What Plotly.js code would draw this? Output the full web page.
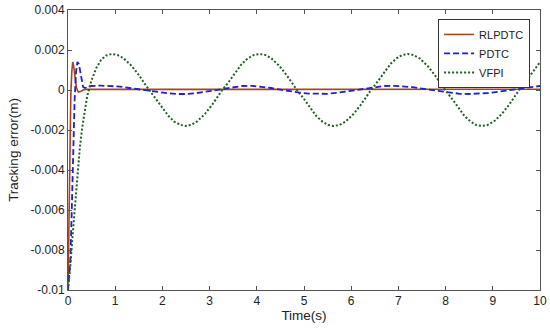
<!DOCTYPE html>
<html>
<head>
<meta charset="utf-8">
<script src="https://cdn.plot.ly/plotly-3.0.1.min.js"></script>
<style>html,body{margin:0;padding:0;background:#fff;}#chart{width:550px;height:332px;}</style>
</head>
<body>
<div id="chart"></div>
<script>
// ---- Data ----
const seriesNames = ["RLPDTC", "PDTC", "VFPI"];

const rlTime = [0, 0.02, 0.04, 0.06, 0.08, 0.1, 0.12, 0.15, 0.18, 0.22, 0.26, 0.32, 0.4, 0.6, 1.0, 1.5, 2.0, 2.5, 3.0, 3.5, 4.0, 4.5, 5.0, 5.5, 6.0, 6.5, 7.0, 7.5, 8.0, 8.5, 9.0, 9.5, 10.0];
const rlError = [-0.0100, -0.0060, -0.0020, -0.0002, 0.0009, 0.0014, 0.0012, 0.0006, 0.0001, -0.0001, -0.00008, 0.0, 0.00004, 0.00003, 0.00003, 0.00002, 0.00001, 0.00002, 0.00003, 0.00004, 0.00004, 0.00003, 0.00002, 0.00002, 0.00003, 0.00004, 0.00004, 0.00003, 0.00002, 0.00002, 0.00003, 0.00004, 0.00004];

const pdTime = [0, 0.05, 0.08, 0.11, 0.14, 0.17, 0.2, 0.23, 0.26, 0.29, 0.32, 0.36, 0.42, 0.5, 0.7, 0.9, 1.1, 1.3, 1.5, 1.7, 1.9, 2.1, 2.3, 2.5, 2.7, 2.9, 3.1, 3.3, 3.5, 3.7, 3.9, 4.1, 4.3, 4.5, 4.7, 4.9, 5.1, 5.3, 5.5, 5.7, 5.9, 6.1, 6.3, 6.5, 6.7, 6.9, 7.1, 7.3, 7.5, 7.7, 7.9, 8.1, 8.3, 8.5, 8.7, 8.9, 9.1, 9.3, 9.5, 9.7, 9.9, 10.0];
const pdError = [-0.0100, -0.0085, -0.0060, -0.0030, -0.0005, 0.0009, 0.0014, 0.0013, 0.0009, 0.0004, 0.00015, 0.0001, 0.00015, 0.0002, 0.00022, 0.0002, 0.00017, 0.0001, 0.00003, -0.00004, -0.0001, -0.00016, -0.0002, -0.0002, -0.00016, -0.0001, -0.00002, 0.00006, 0.00014, 0.0002, 0.00021, 0.00016, 0.0001, 0.00002, -0.00006, -0.00013, -0.00018, -0.0002, -0.00019, -0.00014, -0.00007, 0.0, 0.00008, 0.00015, 0.0002, 0.00021, 0.00019, 0.00014, 0.00007, 0.0, -0.00007, -0.00014, -0.00019, -0.0002, -0.00019, -0.00015, -0.00009, -0.00002, 0.00005, 0.00012, 0.00017, 0.0002];

const vfTime = [0, 0.05, 0.1, 0.15, 0.2, 0.25, 0.3, 0.35, 0.4, 0.45, 0.5, 0.6, 0.7, 0.8, 0.93, 1.05, 1.18, 1.35, 1.5, 1.65, 1.72, 1.87, 2.0, 2.13, 2.25, 2.37, 2.48, 2.6, 2.73, 2.9, 3.05, 3.2, 3.27, 3.42, 3.55, 3.68, 3.81, 3.94, 4.06, 4.18, 4.31, 4.48, 4.63, 4.78, 4.85, 5.0, 5.13, 5.26, 5.39, 5.51, 5.63, 5.75, 5.88, 6.05, 6.2, 6.35, 6.42, 6.57, 6.7, 6.83, 6.96, 7.08, 7.2, 7.32, 7.45, 7.62, 7.77, 7.92, 7.99, 8.14, 8.27, 8.4, 8.53, 8.65, 8.77, 8.89, 9.02, 9.19, 9.34, 9.49, 9.56, 9.71, 9.84, 10.0];
const vfError = [-0.0100, -0.0088, -0.0072, -0.0056, -0.0041, -0.0029, -0.0019, -0.0011, -0.0004, 0.0001, 0.0005, 0.0011, 0.0015, 0.00172, 0.0018, 0.00175, 0.00158, 0.0012, 0.00075, 0.00023, 0.0, -0.00045, -0.0009, -0.0013, -0.00158, -0.00173, -0.0018, -0.00175, -0.00158, -0.0012, -0.00075, -0.00023, 0.0, 0.00045, 0.0009, 0.0013, 0.00158, 0.00175, 0.0018, 0.00175, 0.00158, 0.0012, 0.00075, 0.00023, 0.0, -0.00045, -0.0009, -0.0013, -0.00158, -0.00175, -0.0018, -0.00175, -0.00158, -0.0012, -0.00075, -0.00023, 0.0, 0.00045, 0.0009, 0.0013, 0.00158, 0.00175, 0.0018, 0.00175, 0.00158, 0.0012, 0.00075, 0.00023, 0.0, -0.00045, -0.0009, -0.0013, -0.00158, -0.00175, -0.0018, -0.00175, -0.00158, -0.0012, -0.00075, -0.00023, 0.0, 0.00045, 0.0009, 0.0014];

const xTickVals = [0, 1, 2, 3, 4, 5, 6, 7, 8, 9, 10];
const xTickText = ["0", "1", "2", "3", "4", "5", "6", "7", "8", "9", "10"];
const yTickVals = [0.004, 0.002, 0, -0.002, -0.004, -0.006, -0.008, -0.01];
const yTickText = ["0.004", "0.002", "0", "-0.002", "-0.004", "-0.006", "-0.008", "-0.01"];

// ---- Chart ----
const fam = "Liberation Sans, Arial, sans-serif";
const txt = "#222";
const axisColor = "#555";

const traces = [
  {x: rlTime, y: rlError, name: seriesNames[0], type: "scatter", mode: "lines",
   line: {color: "#a5461c", width: 1.6}},
  {x: pdTime, y: pdError, name: seriesNames[1], type: "scatter", mode: "lines",
   line: {color: "#1f1fd6", width: 1.8, dash: "6px,3px"}},
  {x: vfTime, y: vfError, name: seriesNames[2], type: "scatter", mode: "lines",
   line: {color: "#1f5f1f", width: 2, dash: "2px,2px"}}
];

const layout = {
  width: 550, height: 332,
  margin: {l: 68, r: 10, t: 10, b: 42},
  paper_bgcolor: "#fff", plot_bgcolor: "#fff",
  font: {family: fam, size: 12, color: txt},
  showlegend: true,
  legend: {
    x: 0.979, y: 0.968, xanchor: "right", yanchor: "top",
    bgcolor: "#fff", bordercolor: "#333", borderwidth: 1,
    font: {family: fam, size: 11, color: txt},
    tracegroupgap: 0, itemwidth: 30,
    traceorder: "normal"
  },
  xaxis: {
    range: [0, 10], tickvals: xTickVals, ticktext: xTickText,
    ticks: "inside", ticklen: 4, tickcolor: axisColor,
    showline: true, linecolor: axisColor, linewidth: 1, mirror: "allticks",
    showgrid: false, zeroline: false,
    tickfont: {family: fam, size: 12, color: txt},
    title: {text: "Time(s)", font: {family: fam, size: 13.5, color: txt}, standoff: 3}
  },
  yaxis: {
    range: [-0.01, 0.004], tickvals: yTickVals, ticktext: yTickText,
    ticks: "inside", ticklen: 4, tickcolor: axisColor,
    showline: true, linecolor: axisColor, linewidth: 1, mirror: "allticks",
    showgrid: false, zeroline: false,
    tickfont: {family: fam, size: 12, color: txt},
    title: {text: "Tracking error(m)", font: {family: fam, size: 13.5, color: txt}, standoff: 8}
  }
};

Plotly.newPlot("chart", traces, layout, {staticPlot: true, displayModeBar: false});
</script>
</body>
</html>
